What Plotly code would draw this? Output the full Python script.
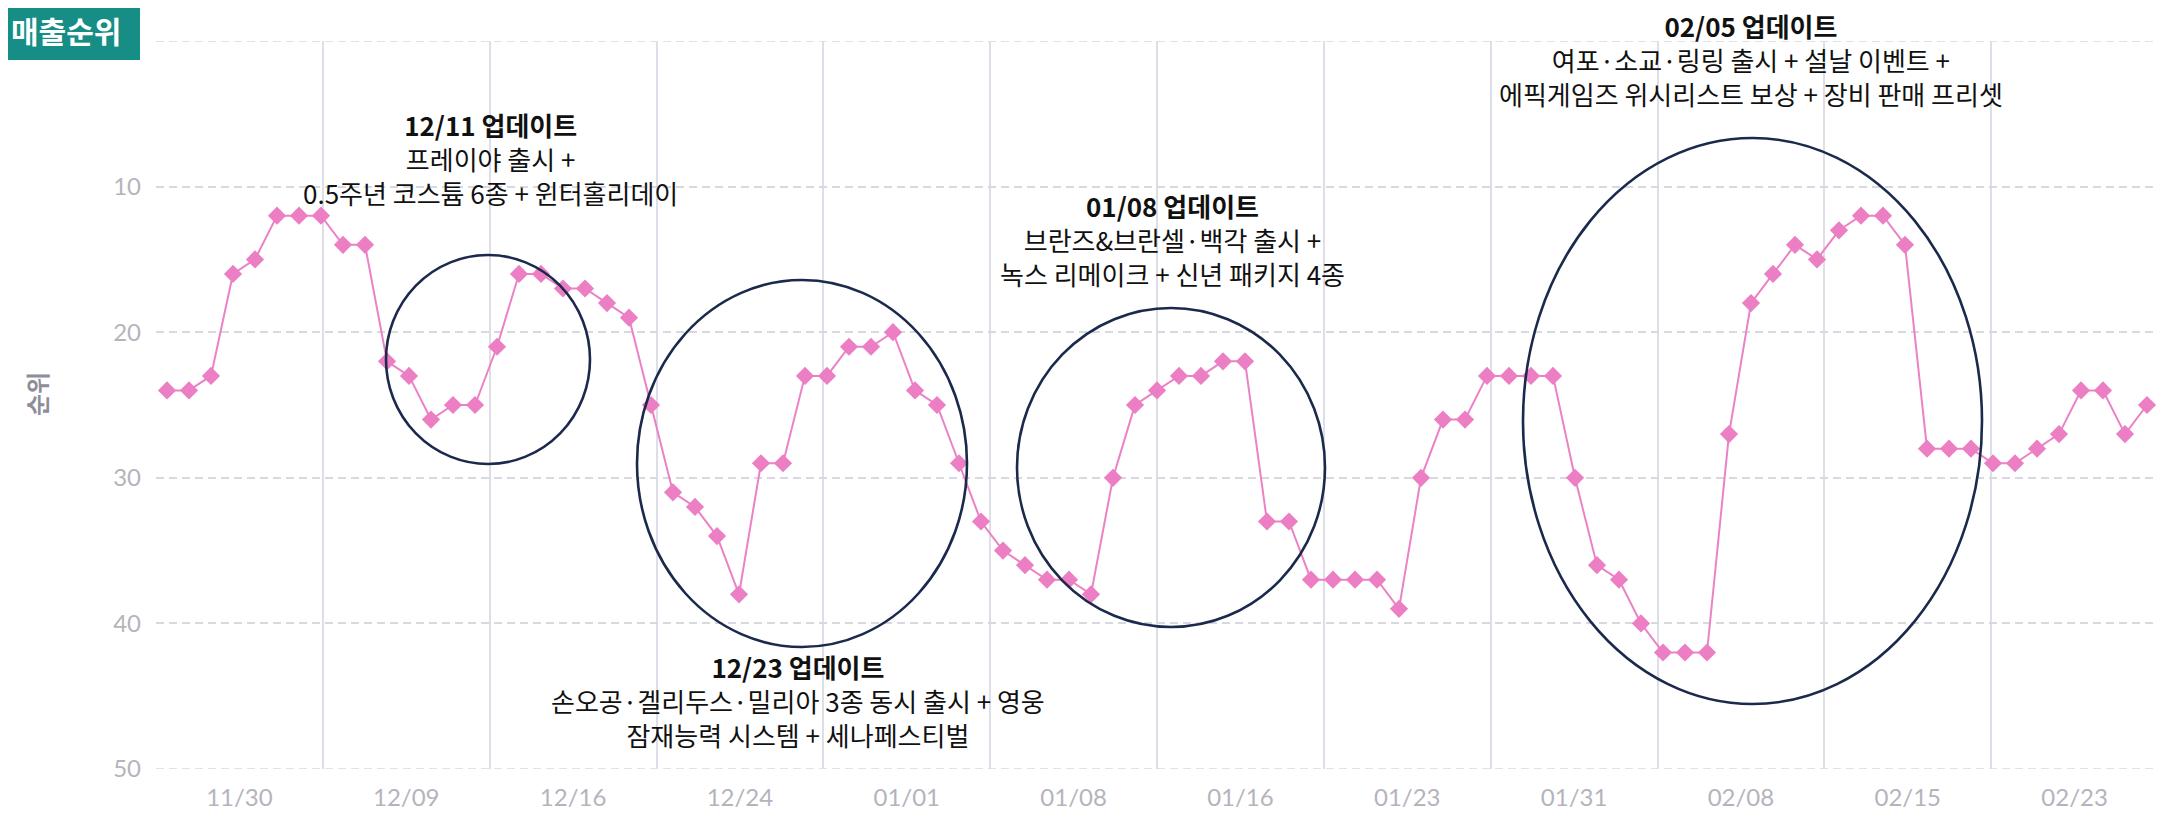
import plotly.graph_objects as go

# ---- data ----
tick_labels = ["11/30", "12/09", "12/16", "12/24", "01/01", "01/08",
               "01/16", "01/23", "01/31", "02/08", "02/15", "02/23"]

ranks = [24, 24, 23, 16, 15, 12, 12, 12, 14, 14,
         22, 23, 26, 25, 25, 21, 16, 16, 17, 17,
         18, 19, 25, 31, 32, 34, 38, 29, 29, 23,
         23, 21, 21, 20, 24, 25, 29, 33, 35, 36,
         37, 37, 38, 30, 25, 24, 23, 23, 22, 22,
         33, 33, 37, 37, 37, 37, 39, 30, 26, 26,
         23, 23, 23, 23, 30, 36, 37, 40, 42, 42,
         42, 27, 18, 16, 14, 15, 13, 12, 12, 14,
         28, 28, 28, 29, 29, 28, 27, 24, 24, 27,
         25]

update_titles = ["12/11 업데이트", "12/23 업데이트", "01/08 업데이트", "02/05 업데이트"]
update_lines = [
    ["프레이야 출시 +", "0.5주년 코스튬 6종 + 윈터홀리데이"],
    ["손오공·겔리두스·밀리아 3종 동시 출시 + 영웅", "잠재능력 시스템 + 세나페스티벌"],
    ["브란즈&브란셀·백각 출시 +", "녹스 리메이크 + 신년 패키지 4종"],
    ["여포·소교·링링 출시 + 설날 이벤트 +", "에픽게임즈 위시리스트 보상 + 장비 판매 프리셋"],
]

# ---- layout geometry (screen pixels; page body has an 8px margin) ----
OFF = 8
FIG_W, FIG_H = 2165 - OFF, 822 - OFF
P_LEFT, P_RIGHT, P_TOP, P_BOTTOM = 156, 2158, 41, 769
ML = P_LEFT - OFF
MT = P_TOP - OFF
MR = FIG_W - (P_RIGHT - OFF)
MB = FIG_H - (P_BOTTOM - OFF)
PW = P_RIGHT - P_LEFT
PH = P_BOTTOM - P_TOP


def pxx(sx):
    return (sx - P_LEFT) / PW


def pxy(sy):
    return (P_BOTTOM - sy) / PH


n = len(ranks)
xs = list(range(n))
xlo, xhi = -0.5, n - 0.5
seg = n / len(tick_labels)
label_pos = [xlo + (k + 0.5) * seg for k in range(len(tick_labels))]
grid_pos = [xlo + k * seg for k in range(1, len(tick_labels))]

LINE_COLOR = "#ec82c6"
MARK_COLOR = "#ec7ec4"
NAVY = "#1b2a4c"
GRID_H = "#d8d8e0"
FONT = "Noto Sans CJK KR"

fig = go.Figure()
fig.add_trace(go.Scatter(
    x=xs, y=ranks, mode="lines+markers",
    line=dict(color=LINE_COLOR, width=2),
    marker=dict(symbol="diamond", size=14, color=MARK_COLOR),
    hoverinfo="skip", showlegend=False,
))

shapes = []
# top and bottom dashed grid lines
for yv in (0, 50):
    shapes.append(dict(type="line", xref="paper", yref="y", x0=0, x1=1, y0=yv, y1=yv,
                       line=dict(color=GRID_H, width=1.6, dash="8px,5px"), layer="below"))

# ellipses (screen px boxes: left, right, top, bottom)
ellipses = [
    (386, 590, 255, 464),
    (637, 967, 280, 647),
    (1017, 1325, 308, 627),
    (1523, 1982, 138, 704),
]
for (a, b, c, d) in ellipses:
    shapes.append(dict(type="circle", xref="paper", yref="paper",
                       x0=pxx(a), x1=pxx(b), y0=pxy(d), y1=pxy(c),
                       line=dict(color=NAVY, width=2.6), layer="above"))

# title badge
shapes.append(dict(type="rect", xref="paper", yref="paper",
                   x0=pxx(0), x1=pxx(140), y0=pxy(60), y1=pxy(0),
                   fillcolor="#168e86", line=dict(width=0), layer="above"))

annotations = []
# (center x, middle line center y) in screen px
ann_pos = [(490, 158), (798, 700), (1172, 239), (1751, 59)]
for (cx, cy), t, lines in zip(ann_pos, update_titles, update_lines):
    annotations.append(dict(
        x=pxx(cx), y=pxy(cy), xref="paper", yref="paper",
        showarrow=False, text="<b>" + t + "</b><br>" + "<br>".join(lines),
        font=dict(family=FONT, size=26, color="#111111"),
        align="center", xanchor="center", yanchor="middle", borderpad=0,
    ))

annotations.append(dict(
    x=pxx(10), y=pxy(30), xref="paper", yref="paper", showarrow=False,
    text="<b>매출순위</b>", font=dict(family=FONT, size=30, color="white"),
    xanchor="left", yanchor="middle", borderpad=0,
))
annotations.append(dict(
    x=pxx(36), y=pxy(394), xref="paper", yref="paper", showarrow=False,
    text="<b>순위</b>", textangle=-90,
    font=dict(family=FONT, size=24, color="#8e8e9a"),
    xanchor="center", yanchor="middle",
))

fig.update_layout(
    width=FIG_W, height=FIG_H,
    margin=dict(l=ML, r=MR, t=MT, b=MB, pad=0),
    paper_bgcolor="white", plot_bgcolor="white",
    shapes=shapes, annotations=annotations,
    xaxis=dict(
        range=[xlo, xhi], tickmode="array", tickvals=label_pos, ticktext=tick_labels,
        showgrid=False, zeroline=False, showline=False, ticks="", automargin=False,
        tickfont=dict(family="Lato", size=24, color="#b4b4bd"),
        ticklabelstandoff=12,
        minor=dict(tickmode="array", tickvals=grid_pos, showgrid=True,
                   gridcolor="#dedee8", gridwidth=1.5, ticks=""),
    ),
    yaxis=dict(
        range=[50, 0], tickmode="array", tickvals=[10, 20, 30, 40, 50],
        showgrid=True, gridcolor=GRID_H, gridwidth=1.6, griddash="8px,5px",
        zeroline=False, showline=False, ticks="", automargin=False,
        tickfont=dict(family="Lato", size=24, color="#b4b4bd"),
        ticklabelstandoff=14,
    ),
)

fig.write_html("out.html")
